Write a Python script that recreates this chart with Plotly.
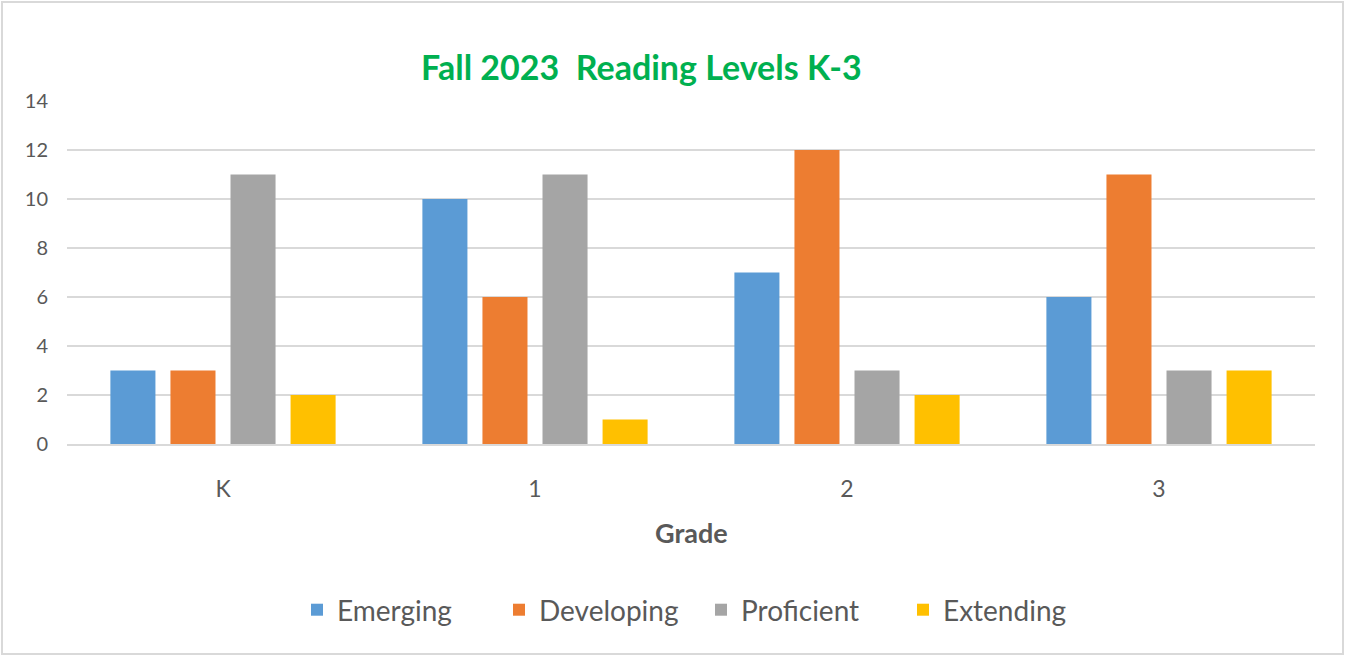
import plotly.graph_objects as go

# Data
grades = ["K", "1", "2", "3"]
emerging = [3, 10, 7, 6]
developing = [3, 6, 12, 11]
proficient = [11, 11, 3, 3]
extending = [2, 1, 2, 3]

series = [
    ("Emerging", emerging, "#5B9BD5"),
    ("Developing", developing, "#ED7D31"),
    ("Proficient", proficient, "#A5A5A5"),
    ("Extending", extending, "#FFC000"),
]

font_family = "Lato, 'Open Sans', sans-serif"

fig = go.Figure()
for name, vals, col in series:
    fig.add_bar(x=grades, y=vals, name=name, marker_color=col, marker_line_width=0)

fig.update_layout(
    width=1345, height=656,
    paper_bgcolor="white", plot_bgcolor="white",
    margin=dict(l=67, r=30, t=101, b=212),
    barmode="group", bargap=0.23, bargroupgap=0.25,
    font=dict(family=font_family, color="#595959"),
    showlegend=True,
    legend=dict(orientation="h", x=(297 - 67) / 1248, xanchor="left", y=-0.484, yanchor="middle",
                font=dict(size=28, color="#595959"), traceorder="normal",
                entrywidth=157, entrywidthmode="pixels", itemwidth=30),
)

fig.update_yaxes(range=[0, 14], dtick=2, showgrid=True, gridcolor="#D9D9D9", gridwidth=2,
                 zeroline=False, showline=False, tickfont=dict(size=20, color="#595959"),
                 ticklabelstandoff=18)
fig.update_xaxes(showline=True, linecolor="#D9D9D9", linewidth=2,
                 tickfont=dict(size=23, color="#595959"), ticklabelstandoff=23)

fig.add_annotation(text="<b>Fall 2023  Reading Levels K-3</b>", xref="paper", yref="paper",
                   x=0.46, y=(444 - 66) / 343, xanchor="center", yanchor="middle",
                   showarrow=False, font=dict(size=34, color="#00B050", family=font_family))
fig.add_annotation(text="<b>Grade</b>", xref="paper", yref="paper",
                   x=0.5, y=(444 - 532) / 343, xanchor="center", yanchor="middle",
                   showarrow=False, font=dict(size=27, color="#595959", family=font_family))

# outer border
fig.add_shape(type="rect", xref="paper", yref="paper",
              x0=(2 - 67) / 1248, x1=(1343 - 67) / 1248,
              y0=(444 - 654) / 343, y1=(444 - 2) / 343,
              line=dict(color="#D9D9D9", width=2), layer="below")

fig.write_html("out.html", config={"displayModeBar": False},
               post_script="document.body.style.margin='0px';")
